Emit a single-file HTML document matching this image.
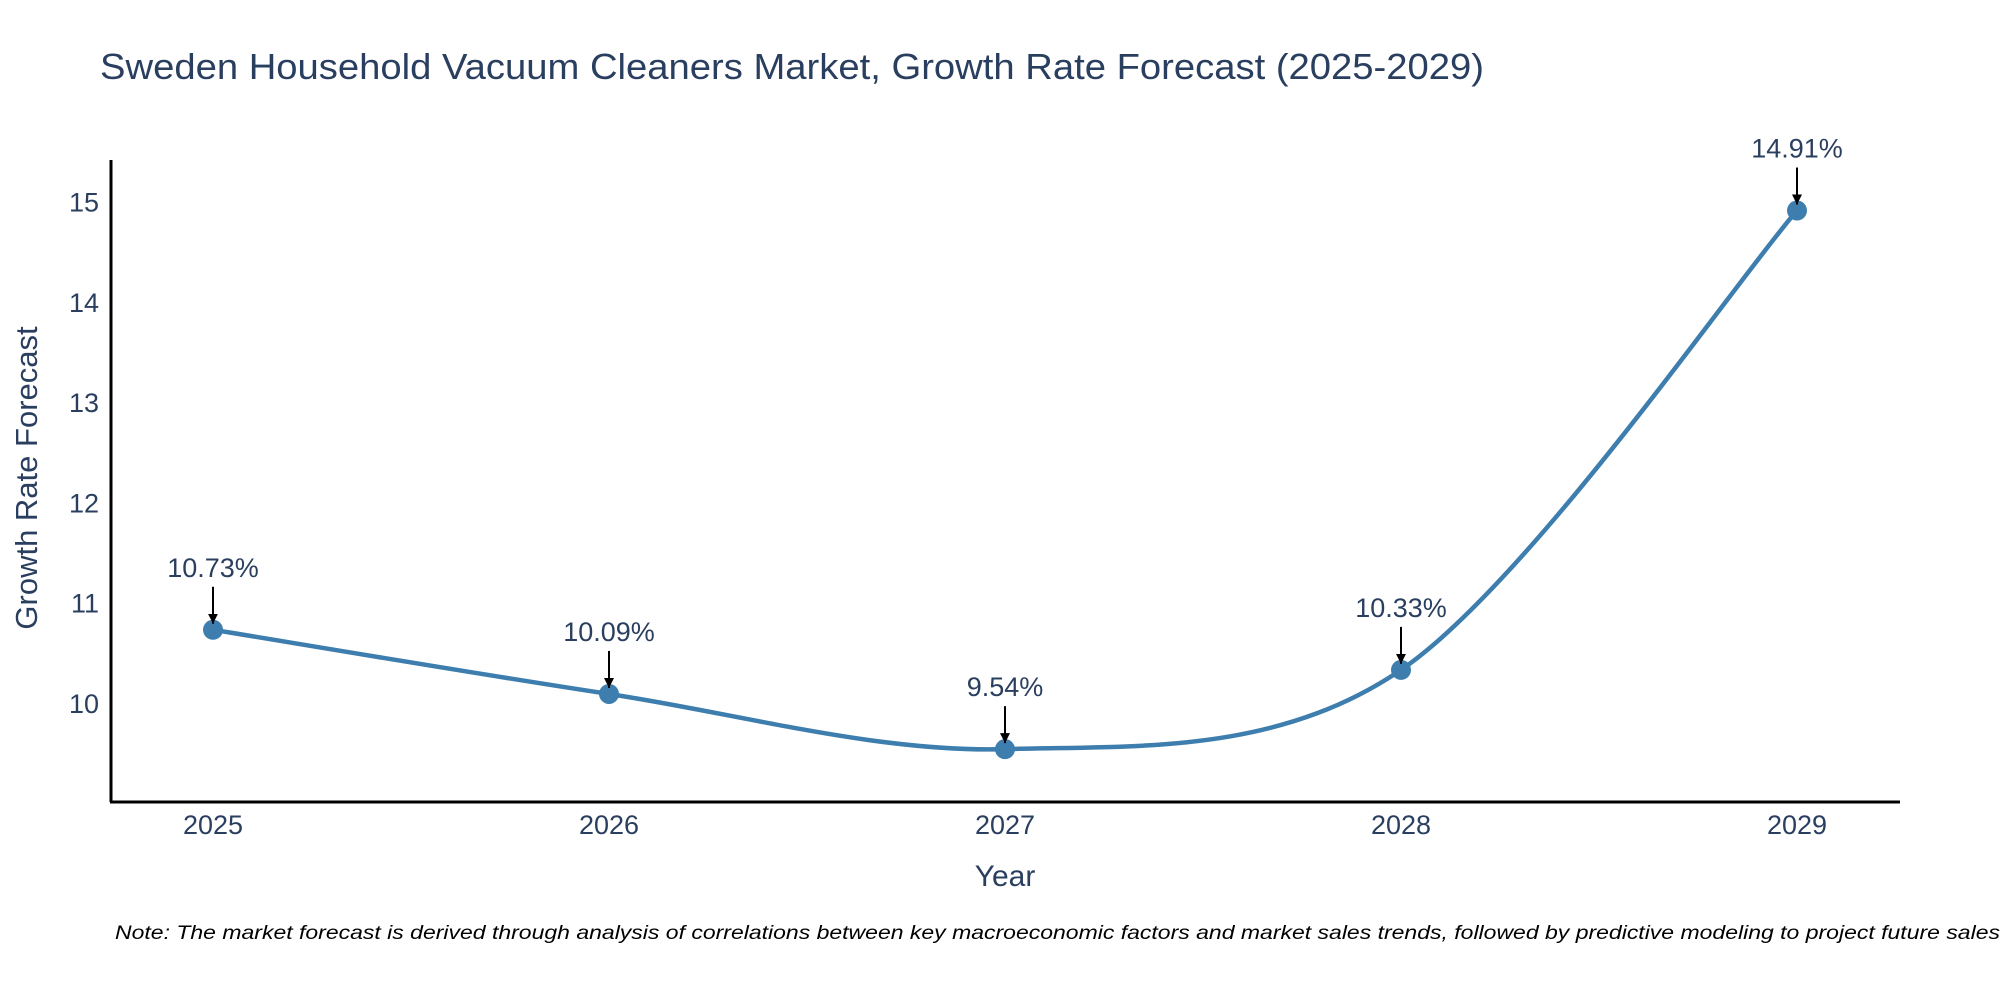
<!DOCTYPE html>
<html><head><meta charset="utf-8"><style>
html,body{margin:0;padding:0;background:#fff;}
svg{display:block;font-family:"Liberation Sans",sans-serif;}
</style></head><body>
<svg id="chart" width="2000" height="1000" viewBox="0 0 2000 1000" xmlns="http://www.w3.org/2000/svg">
<defs><marker id="ah" viewBox="0 0 10 10" refX="10" refY="5" markerWidth="5" markerHeight="5" orient="auto"><path d="M0,0 L10,5 L0,10 z" fill="#000"/></marker></defs>
<text x="100" y="79" font-size="36" fill="#2a3f5f" textLength="1384" lengthAdjust="spacingAndGlyphs">Sweden Household Vacuum Cleaners Market, Growth Rate Forecast (2025-2029)</text>
<g id="plot"></g>
<line x1="111" y1="160" x2="111" y2="802" stroke="#000" stroke-width="3"/>
<line x1="110" y1="802" x2="1900" y2="802" stroke="#000" stroke-width="3"/>
<text x="1005" y="886" font-size="30" fill="#2a3f5f" text-anchor="middle">Year</text>
<text transform="translate(37,478) rotate(-90)" font-size="31" fill="#2a3f5f" text-anchor="middle">Growth Rate Forecast</text>
<text x="115" y="939" font-size="19" font-style="italic" fill="#000" textLength="1885" lengthAdjust="spacingAndGlyphs">Note: The market forecast is derived through analysis of correlations between key macroeconomic factors and market sales trends, followed by predictive modeling to project future sales</text>
</svg>
<script>
const years = [2025, 2026, 2027, 2028, 2029];
const values = [10.73, 10.09, 9.54, 10.33, 14.91];
const yTicks = [10, 11, 12, 13, 14, 15];
const labels = ["10.73%", "10.09%", "9.54%", "10.33%", "14.91%"];

const NS = "http://www.w3.org/2000/svg";
const g = document.getElementById("plot");
const xs = v => 213 + (v - 2025) * 396;
const ys = v => 703 - (v - 10) * 100.3;
function mk(tag, attrs) { const e = document.createElementNS(NS, tag); for (const k in attrs) e.setAttribute(k, attrs[k]); g.appendChild(e); return e; }

yTicks.forEach(t => {
  const e = mk("text", {x: 99, y: ys(t) + 10, "font-size": 27, fill: "#2a3f5f", "text-anchor": "end"});
  
  
  e.textContent = t;
});
years.forEach(t => {
  const e = mk("text", {x: xs(t), y: 834, "font-size": 27, fill: "#2a3f5f", "text-anchor": "middle"});
  
  
  e.textContent = t;
});

const pts = years.map((y, i) => [xs(y), ys(values[i])]);
let d = "M" + pts[0][0] + "," + pts[0][1];
const s = 0.16;
for (let i = 0; i < pts.length - 1; i++) {
  const p0 = pts[Math.max(0, i - 1)], p1 = pts[i], p2 = pts[i + 1], p3 = pts[Math.min(pts.length - 1, i + 2)];
  const c1 = [p1[0] + (p2[0] - p0[0]) * s, p1[1] + (p2[1] - p0[1]) * s];
  const c2 = [p2[0] - (p3[0] - p1[0]) * s, p2[1] - (p3[1] - p1[1]) * s];
  d += " C" + c1 + " " + c2 + " " + p2;
}
const line = mk("path", {d: d, fill: "none", stroke: "#3d7eae", "stroke-width": 4.5});



pts.forEach((p, i) => {
  const c = mk("circle", {cx: p[0], cy: p[1], r: 10, fill: "#3d7eae"});
  
  
  const a = mk("line", {x1: p[0], y1: p[1] - 43, x2: p[0], y2: p[1] - 6, stroke: "#000", "stroke-width": 2, "marker-end": "url(#ah)"});
  
  
  const t = mk("text", {x: p[0], y: p[1] - 53, "font-size": 27, fill: "#2a3f5f", "text-anchor": "middle"});
  
  
  t.textContent = labels[i];
});
</script>
</body></html>
